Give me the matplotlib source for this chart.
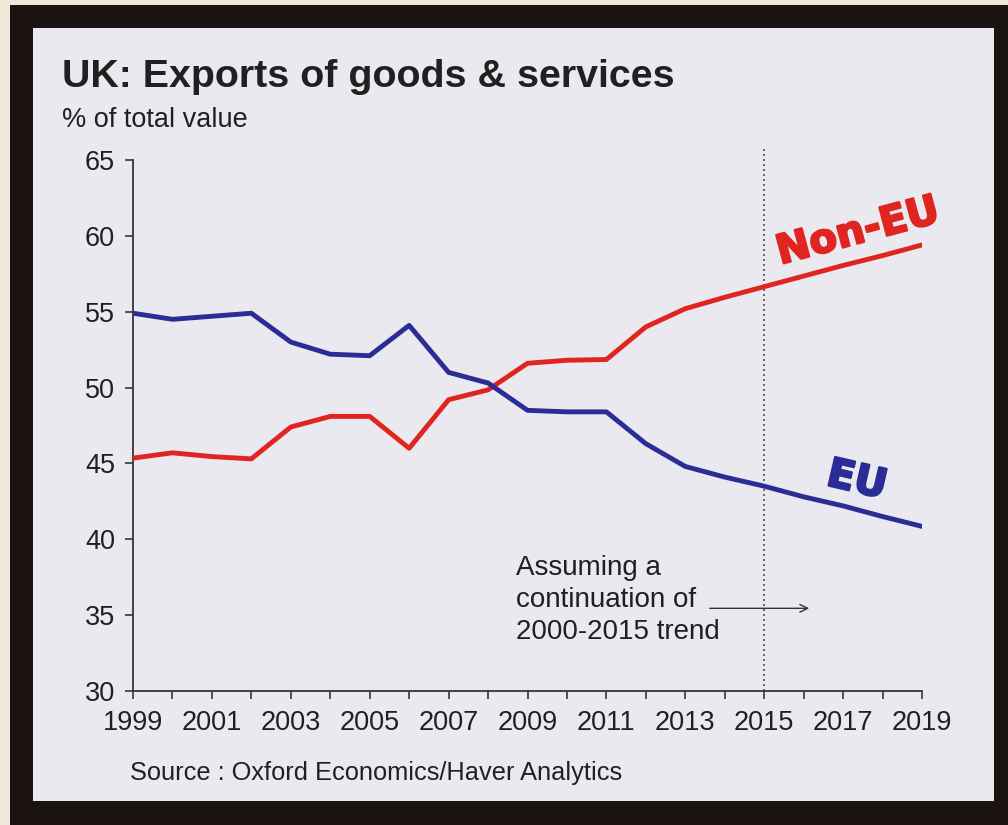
from __future__ import annotations

import matplotlib

matplotlib.use("Agg")

import matplotlib.patheffects as pe
import matplotlib.pyplot as plt
from matplotlib.patches import Rectangle

YEARS = list(range(1999, 2020))
EU_SHARE = [54.9, 54.5, 54.7, 54.9, 53.0, 52.2, 52.1, 54.1, 51.0, 50.3, 48.5,
            48.4, 48.4, 46.3, 44.8, 44.1, 43.5, 42.8, 42.2, 41.5, 40.85]
NON_EU_SHARE = [45.35, 45.7, 45.45, 45.3, 47.4, 48.1, 48.1, 46.0, 49.2, 49.85, 51.6,
                51.8, 51.85, 54.0, 55.2, 55.95, 56.65, 57.35, 58.05, 58.7, 59.4]
X_TICKS = list(range(1999, 2020, 2))
Y_TICKS = list(range(30, 66, 5))
TREND_START = 2015

TITLE = "UK: Exports of goods & services"
UNITS = "% of total value"
SOURCE = "Source : Oxford Economics/Haver Analytics"
NOTE = "Assuming a\ncontinuation of\n2000-2015 trend"

W, H = 1008, 825
BEIGE = "#efe7d8"
FRAME = "#1b1312"
PANEL = "#e9e9ef"
INK = "#231f20"
RED = "#e02420"
BLUE = "#2b2d96"
FONT = "Liberation Sans"


def px_box(x0: float, y0: float, x1: float, y1: float) -> tuple[float, float, float, float]:
    # pixel box (top-left origin) -> figure fraction rectangle
    return x0 / W, 1 - y1 / H, (x1 - x0) / W, (y1 - y0) / H


def draw_frame(fig) -> None:
    for box, color in [((10, 5, W, H), FRAME), ((33, 28, 994, 801), PANEL)]:
        x, y, w, h = px_box(*box)
        fig.patches.append(Rectangle((x, y), w, h, transform=fig.transFigure,
                                     facecolor=color, edgecolor="none", zorder=-10))


def main() -> None:
    plt.rcParams["font.family"] = [FONT, "DejaVu Sans"]
    fig = plt.figure(figsize=(W / 100, H / 100), dpi=100, facecolor=BEIGE)
    draw_frame(fig)

    ax = fig.add_axes(px_box(133, 160, 922, 691))
    ax.set_facecolor("none")

    ax.plot(YEARS, NON_EU_SHARE, color=RED, lw=3.5, solid_joinstyle="round",
            solid_capstyle="round", zorder=3)
    ax.plot(YEARS, EU_SHARE, color=BLUE, lw=3.5, solid_joinstyle="round",
            solid_capstyle="round", zorder=3)

    ax.plot([TREND_START, TREND_START], [30, 65.8], color="#555055", lw=1.2,
            ls=(0, (1.2, 1.8)), clip_on=False, zorder=2)

    ax.set_xlim(1999, 2019)
    ax.set_ylim(30, 65)
    ax.set_xticks(YEARS, minor=True)
    ax.set_xticks(X_TICKS)
    ax.set_xticklabels([str(y) for y in X_TICKS])
    ax.set_yticks(Y_TICKS)

    for side in ("top", "right"):
        ax.spines[side].set_visible(False)
    for side in ("left", "bottom"):
        ax.spines[side].set_color("#3a3434")
        ax.spines[side].set_linewidth(1.3)
    ax.tick_params(axis="both", which="both", direction="out", length=6, width=1.2,
                   color="#3a3434", labelsize=19.5, labelcolor=INK)
    ax.tick_params(axis="x", which="major", pad=8)
    ax.tick_params(axis="y", pad=7)

    stroke = lambda c: [pe.withStroke(linewidth=1.6, foreground=c)]
    ax.text(2017.38, 60.25, "Non-EU", color=RED, fontsize=29, fontweight="bold",
            family="DejaVu Sans", rotation=15, ha="center", va="center",
            rotation_mode="anchor", path_effects=stroke(RED), zorder=4)
    ax.text(2017.35, 43.85, "EU", color=BLUE, fontsize=29, fontweight="bold",
            family="DejaVu Sans", rotation=-13, ha="center", va="center",
            rotation_mode="anchor", path_effects=stroke(BLUE), zorder=4)

    ax.text(2008.71, 38.95, NOTE, color=INK, fontsize=20, ha="left", va="top",
            linespacing=1.3)
    ax.annotate("", xy=(2016.21, 35.45), xytext=(2013.55, 35.45),
                arrowprops=dict(arrowstyle="->", color="#3a3434", lw=1.0,
                                mutation_scale=14))

    fig.text(62 / W, 1 - 87 / H, TITLE, fontsize=28.4, fontweight="bold", color=INK,
             ha="left", va="baseline")
    fig.text(62 / W, 1 - 127 / H, UNITS, fontsize=19.5, color=INK,
             ha="left", va="baseline")
    fig.text(130 / W, 1 - 780 / H, SOURCE, fontsize=18.3, color=INK,
             ha="left", va="baseline")

    fig.savefig("out.png", dpi=100, facecolor=BEIGE)
    plt.close(fig)


if __name__ == "__main__":
    main()
